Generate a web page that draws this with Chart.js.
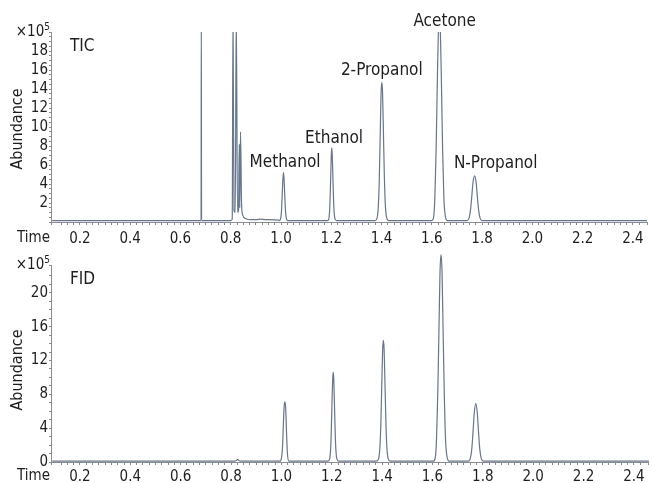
<!DOCTYPE html>
<html>
<head>
<meta charset="utf-8">
<script src="https://cdn.jsdelivr.net/npm/chart.js@4.4.1/dist/chart.umd.min.js"></script>
<style>
  html, body { margin: 0; padding: 0; background: #fff; }
  #wrap { position: relative; width: 652px; height: 483px; }
  #wrap canvas { position: absolute; left: 0; }
</style>
</head>
<body>
<div id="wrap">
  <canvas id="tic" width="652" height="250" style="top:0"></canvas>
  <canvas id="fid" width="652" height="233" style="top:250px"></canvas>
</div>
<script>
const ticTime = [0.09, 0.675, 0.682, 0.683, 0.684, 0.80, 0.806, 0.809, 0.813, 0.818, 0.822, 0.827, 0.831, 0.834, 0.836, 0.839, 0.843, 0.848, 0.86, 0.88, 0.90, 0.92, 0.94, 0.99,
  0.993, 0.998, 1.002, 1.005, 1.008, 1.010, 1.012, 1.015, 1.018, 1.022, 1.027,
  1.185, 1.19, 1.194, 1.197, 1.200, 1.202, 1.204, 1.207, 1.210, 1.214, 1.22,
  1.375, 1.382, 1.387, 1.391, 1.395, 1.398, 1.401, 1.404, 1.407, 1.411, 1.415, 1.420, 1.428,
  1.600, 1.607, 1.612, 1.617, 1.622, 1.626, 1.630, 1.634, 1.638, 1.643, 1.648, 1.654, 1.662,
  1.740, 1.748, 1.754, 1.759, 1.764, 1.770, 1.776, 1.781, 1.786, 1.792, 1.80, 2.46];
const ticAbund = [0.15, 0.15, 0.15, 22, 0.15, 0.15, 0.3, 22, 1.2, 1.0, 22, 1.0, 1.2, 8.2, 1.5, 9.5, 2.0, 0.7, 0.35, 0.25, 0.25, 0.3, 0.25, 0.2,
  0.15, 0.3, 1.2, 3.0, 4.7, 5.2, 4.6, 2.8, 1.1, 0.3, 0.15,
  0.15, 0.3, 1.5, 4.0, 7.0, 7.8, 7.0, 4.2, 1.7, 0.4, 0.15,
  0.15, 0.4, 1.6, 4.5, 9.5, 13.5, 14.7, 13.6, 10.0, 5.0, 1.8, 0.5, 0.15,
  0.15, 0.5, 2.5, 7.5, 15, 20, 21.5, 20, 15, 7.5, 2.5, 0.6, 0.15,
  0.15, 0.4, 1.3, 2.7, 4.2, 4.85, 4.2, 2.7, 1.3, 0.4, 0.15, 0.15];

const fidTime = [0.09, 0.815, 0.822, 0.826, 0.830, 0.837, 0.995,
  0.998, 1.004, 1.008, 1.011, 1.014, 1.017, 1.020, 1.024, 1.030,
  1.185, 1.192, 1.197, 1.201, 1.204, 1.206, 1.208, 1.211, 1.215, 1.220, 1.228,
  1.378, 1.386, 1.391, 1.395, 1.399, 1.402, 1.405, 1.408, 1.411, 1.415, 1.419, 1.424, 1.432,
  1.603, 1.611, 1.616, 1.621, 1.626, 1.630, 1.634, 1.638, 1.642, 1.647, 1.652, 1.658, 1.666,
  1.742, 1.750, 1.756, 1.761, 1.766, 1.772, 1.778, 1.783, 1.788, 1.794, 1.802, 2.46];
const fidAbund = [0.1, 0.1, 0.2, 0.3, 0.2, 0.1, 0.1,
  0.2, 1.5, 4.5, 6.6, 7.1, 6.4, 3.8, 1.0, 0.1,
  0.1, 0.4, 2.5, 7.0, 10.0, 10.6, 9.8, 6.5, 2.3, 0.4, 0.1,
  0.1, 0.4, 1.6, 4.5, 9.5, 13.2, 14.4, 13.3, 9.8, 4.8, 1.7, 0.4, 0.1,
  0.1, 0.5, 2.6, 8.0, 16, 22.5, 24.5, 22.5, 16, 8.0, 2.6, 0.6, 0.1,
  0.1, 0.4, 1.5, 3.5, 5.8, 6.9, 5.8, 3.5, 1.5, 0.4, 0.1, 0.1];

const peakNames = ['Methanol', 'Ethanol', '2-Propanol', 'Acetone', 'N-Propanol'];
const peakLabelTime = [1.016, 1.211, 1.401, 1.651, 1.854];
const peakLabelAbund = [6.3, 8.8, 15.9, 21.1, 6.1];

const FONT = '"Liberation Sans Narrow", "DejaVu Sans Condensed", sans-serif';
const TRACE = '#66768d';
const AXIS = '#8c8c8c';
const TEXT = '#1e1e1e';

function toPoints(xs, ys) {
    return xs.map((x, i) => ({ x: x, y: ys[i] }));
}

function timeLabel(v) {
    const r = Math.round(v * 10) / 10;
    if (Math.abs(v - r) < 1e-6 && Math.round(r * 10) % 2 === 0) return r.toFixed(1);
    return '';
}

// Texto fijo de cada panel: eje, título, x10^5, etiquetas de picos
function panelText(name, abundY, showPeaks) {
    return {
        id: 'panelText_' + name,
        afterDraw(chart) {
            const ctx = chart.ctx;
            const area = chart.chartArea;
            ctx.save();
            ctx.fillStyle = TEXT;
            ctx.textBaseline = 'middle';

            // ×10^5
            ctx.textAlign = 'right';
            ctx.font = '10px ' + FONT;
            ctx.fillText('5', 50, area.top - 5);
            const w5 = ctx.measureText('5').width;
            ctx.font = '15px ' + FONT;
            ctx.fillText('×10', 50 - w5, area.top);

            // título del panel
            ctx.textAlign = 'left';
            ctx.font = '17px ' + FONT;
            ctx.fillText(name, 70, area.top + 15);

            // Time
            ctx.font = '15px ' + FONT;
            ctx.fillText('Time', 17, chart.height - (name === 'TIC' ? 12 : 7));

            // Abundance vertical
            ctx.save();
            ctx.translate(18, abundY);
            ctx.rotate(-Math.PI / 2);
            ctx.textAlign = 'center';
            ctx.font = '16px ' + FONT;
            ctx.fillText('Abundance', 0, 0);
            ctx.restore();

            if (showPeaks) {
                const xs = chart.scales.x, ys = chart.scales.y;
                ctx.textAlign = 'center';
                ctx.font = '17px ' + FONT;
                peakNames.forEach((n, i) => {
                    ctx.fillText(n, xs.getPixelForValue(peakLabelTime[i]), ys.getPixelForValue(peakLabelAbund[i]));
                });
            }
            ctx.restore();
        }
    };
}

function makeChart(canvasId, points, yMax, yStep, yLabelEvery, showZero, padTop, xHeight, xPad, plugin, clip) {
    return new Chart(document.getElementById(canvasId), {
        type: 'scatter',
        data: {
            datasets: [{
                data: points,
                showLine: true,
                borderColor: TRACE,
                borderWidth: 1.2,
                pointRadius: 0,
                cubicInterpolationMode: 'monotone',
                clip: clip
            }]
        },
        options: {
            responsive: false,
            animation: false,
            devicePixelRatio: 1,
            layout: { padding: { top: padTop, right: 4, left: 0, bottom: 0 } },
            plugins: { legend: { display: false }, tooltip: { enabled: false } },
            scales: {
                x: {
                    type: 'linear',
                    min: 0.085,
                    max: 2.456,
                    afterFit: s => { s.height = xHeight; },
                    grid: { drawOnChartArea: false, drawTicks: true, tickLength: 3, color: AXIS },
                    border: { display: true, color: AXIS, width: 1 },
                    ticks: {
                        stepSize: 0.025,
                        autoSkip: false,
                        maxRotation: 0,
                        padding: xPad,
                        color: TEXT,
                        font: { family: FONT, size: 15 },
                        callback: v => timeLabel(v)
                    }
                },
                y: {
                    min: 0,
                    max: yMax,
                    afterFit: s => { s.width = 51; },
                    grid: { drawOnChartArea: false, drawTicks: true, tickLength: 2, color: AXIS },
                    border: { display: true, color: AXIS, width: 1 },
                    ticks: {
                        stepSize: yStep,
                        autoSkip: false,
                        padding: 1,
                        color: TEXT,
                        font: { family: FONT, size: 15 },
                        callback: v => {
                            const r = Math.round(v);
                            if (Math.abs(v - r) > 1e-6 || r % yLabelEvery !== 0) return '';
                            if (r === 0 && !showZero) return '';
                            if (r >= 20 && yLabelEvery === 2) return '';
                            return String(r);
                        }
                    }
                }
            }
        },
        plugins: [plugin]
    });
}

makeChart('tic', toPoints(ticTime, ticAbund), 20, 0.5, 2, false, 32, 28, 5, panelText('TIC', 129, true), true);
makeChart('fid', toPoints(fidTime, fidAbund), 23.3, 1, 4, true, 15, 21, 3, panelText('FID', 120, false), false);
</script>
</body>
</html>
